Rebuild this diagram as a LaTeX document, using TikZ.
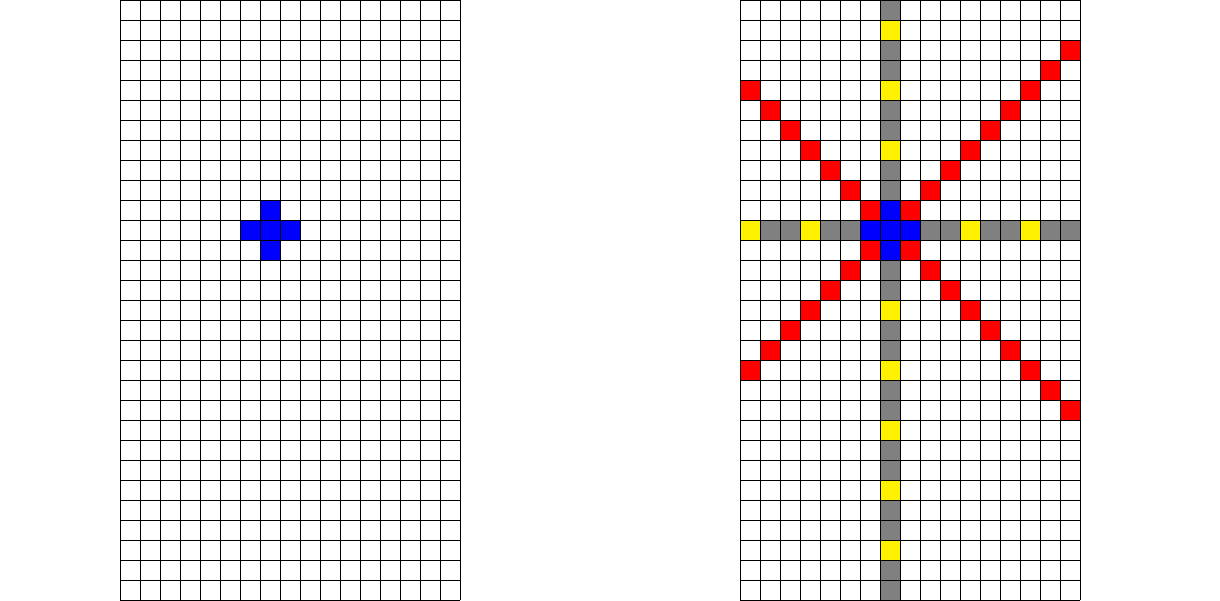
\documentclass[tikz,border=0pt]{standalone}
\usepackage{tikz}

% one cell of the grid, column #1 and row #2 counted from the top left
\newcommand{\paintcell}[3]{\fill[#3] ({(#1)*0.5},{-(#2)*0.5}) rectangle ++(0.5,-0.5);}

\begin{document}
\begin{tikzpicture}[
gridline/.style={draw=black, line width=0.7pt},
]
\useasboundingbox (0,0) rectangle (30.5,-15);

% left board: the start piece only
\begin{scope}[xshift=3cm]
\foreach \c/\r in {7/10,6/11,7/11,8/11,7/12} {\paintcell{\c}{\r}{blue}}
\draw[gridline] (0,-15) grid[step=0.5] (8.5,0);
\end{scope}

% right board: the piece and the lines it reaches
\begin{scope}[xshift=18.5cm]
\foreach \r in {0,...,29} {\paintcell{7}{\r}{gray}}
\foreach \c in {0,...,16} {\paintcell{\c}{11}{gray}}
\foreach \r in {1,4,7,15,18,21,24,27} {\paintcell{7}{\r}{yellow}}
\foreach \c in {0,3,11,14} {\paintcell{\c}{11}{yellow}}
\foreach \c/\r in {7/10,6/11,7/11,8/11,7/12} {\paintcell{\c}{\r}{blue}}
% diagonals
\foreach \k in {0,...,6} {
  \paintcell{6-\k}{10-\k}{red}
  \paintcell{6-\k}{12+\k}{red}
}
\foreach \k in {0,...,8} {
  \paintcell{8+\k}{10-\k}{red}
  \paintcell{8+\k}{12+\k}{red}
}
\draw[gridline] (0,-15) grid[step=0.5] (8.5,0);
\end{scope}
\end{tikzpicture}
\end{document}
